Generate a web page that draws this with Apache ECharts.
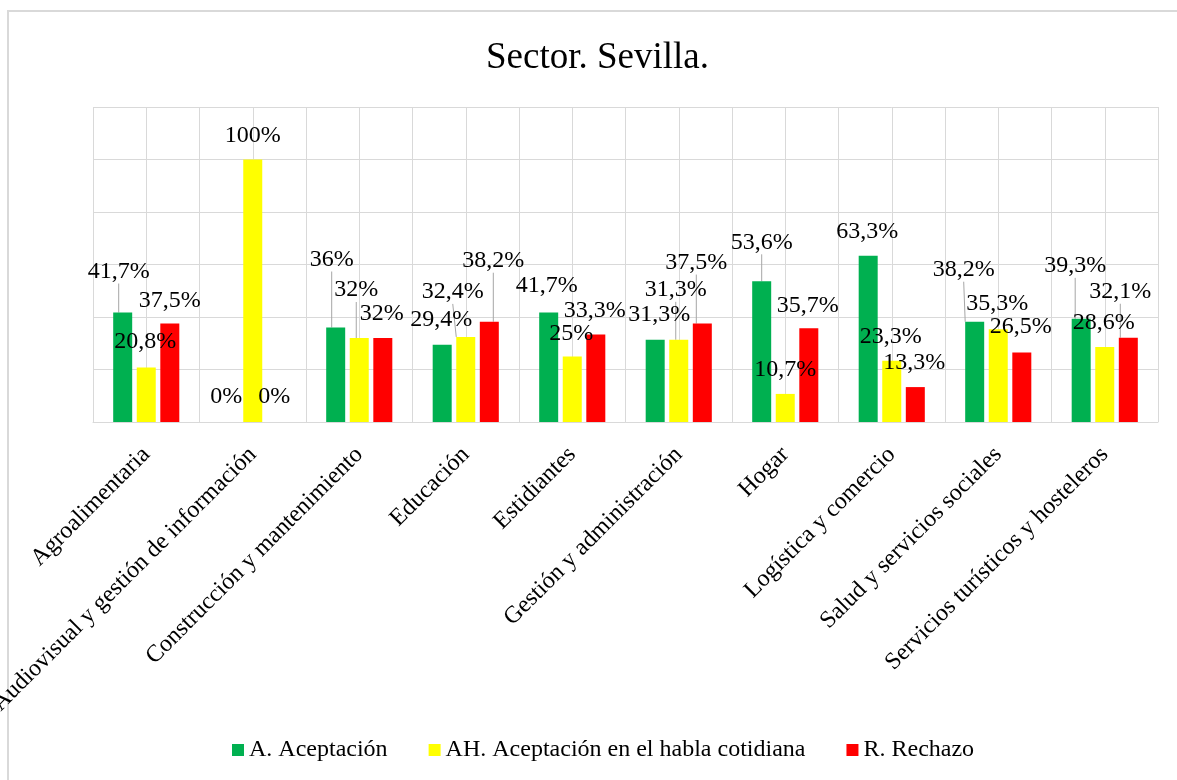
<!DOCTYPE html>
<html>
<head>
<meta charset="utf-8">
<script src="https://cdn.jsdelivr.net/npm/echarts@6/dist/echarts.min.js"></script>
<style>
html,body{margin:0;padding:0;background:#fff;}
#chart{width:1177px;height:780px;}
</style>
</head>
<body>
<div id="chart"></div>
<script>
const titleText = 'Sector. Sevilla.';
const categories = [
  'Agroalimentaria',
  'Audiovisual y gestión de información',
  'Construcción y mantenimiento',
  'Educación',
  'Estidiantes',
  'Gestión y administración',
  'Hogar',
  'Logística y comercio',
  'Salud y servicios sociales',
  'Servicios turísticos y hosteleros'
];
const seriesNames = ['A. Aceptación', 'AH. Aceptación en el habla cotidiana', 'R. Rechazo'];
const aceptacion = [41.7, 0, 36, 29.4, 41.7, 31.3, 53.6, 63.3, 38.2, 39.3];
const hablaCotidiana = [20.8, 100, 32, 32.4, 25, 31.3, 10.7, 23.3, 35.3, 28.6];
const rechazo = [37.5, 0, 32, 38.2, 33.3, 37.5, 35.7, 13.3, 26.5, 32.1];

// label offsets (annotation placement, Excel-style)
const labelDx = [
  [-4, -3, -4, -1, -2, 4, 0, -1, -11, -6],
  [-1, 0, -3, -13, -1, -3, 0, -1, -1, -1],
  [0, -2, -1, 4, -1, -6, -1, -1, -1, -8]
];
const labelDy = [
  [-24, -8, -51, -8, -10, -8, -22, -7, -35, -36],
  [-9, -7, -31, -28, -6, -33, -7, -7, -9, -7],
  [-6, -8, -7, -44, -7, -44, -6, -7, -9, -29]
];
const leaders = [
  [1, 0, 1, 0, 0, 0, 1, 0, 1, 1],
  [0, 0, 1, 1, 0, 1, 0, 0, 0, 0],
  [0, 0, 0, 1, 0, 1, 0, 0, 0, 1]
];
const colors = ['#00B050', '#FFFF00', '#FF0000'];
const FONT = '"Liberation Serif", "Times New Roman", serif';

const values = [aceptacion, hablaCotidiana, rechazo];
const halfCats = [];
for (let i = 0; i < categories.length * 2; i++) halfCats.push('h' + i);

function fmt(v) { return String(v).replace('.', ',') + '%'; }

const series = values.map((arr, s) => ({
  name: seriesNames[s],
  type: 'bar',
  xAxisIndex: 0,
  barWidth: 19,
  barGap: '24%',
  itemStyle: { color: colors[s] },
  label: {
    show: true,
    position: 'top',
    distance: 5,
    fontFamily: FONT,
    fontSize: 24,
    color: '#000',
    formatter: p => fmt(p.value)
  },
  labelLine: { show: false, lineStyle: { color: '#A6A6A6', width: 1 } },
  labelLayout: function (p) {
    return { dx: labelDx[s][p.dataIndex], dy: labelDy[s][p.dataIndex] };
  },
  data: arr.map((v, i) => ({
    value: v,
    labelLine: { show: !!leaders[s][i], lineStyle: { color: '#A6A6A6', width: 1 } }
  }))
}));

const chart = echarts.init(document.getElementById('chart'));
chart.setOption({
  backgroundColor: '#fff',
  animation: false,
  title: {
    text: titleText,
    left: 481,
    top: 35,
    textStyle: { fontFamily: FONT, fontSize: 37, fontWeight: 'normal', color: '#000' }
  },
  legend: {
    bottom: 13,
    left: 227,
    itemWidth: 12,
    itemHeight: 12,
    itemGap: 41,
    icon: 'rect',
    textStyle: { fontFamily: FONT, fontSize: 24, color: '#000' },
    data: seriesNames
  },
  graphic: [{
    type: 'rect',
    shape: { x: 8, y: 11, width: 1200, height: 800 },
    style: { fill: 'none', stroke: '#D9D9D9', lineWidth: 2 },
    silent: true
  }],
  grid: { left: 93, right: 19, top: 107, bottom: 358, containLabel: false, outerBoundsMode: 'none' },
  xAxis: [{
    type: 'category',
    data: categories,
    axisLine: { show: true, lineStyle: { color: '#D9D9D9', width: 1 } },
    axisTick: { show: false },
    splitLine: { show: true, interval: 0, lineStyle: { color: '#D9D9D9', width: 1 } },
    axisLabel: {
      interval: 0,
      rotate: 45,
      margin: 29,
      fontFamily: FONT,
      fontSize: 24,
      color: '#000'
    }
  }, {
    type: 'category',
    data: halfCats,
    position: 'bottom',
    axisLine: { show: false },
    axisTick: { show: false },
    axisLabel: { show: false },
    splitLine: { show: true, interval: 0, lineStyle: { color: '#D9D9D9', width: 1 } }
  }],
  yAxis: {
    type: 'value',
    min: 0,
    max: 120,
    interval: 20,
    axisLabel: { show: false },
    axisLine: { show: false },
    axisTick: { show: false },
    splitLine: { show: true, lineStyle: { color: '#D9D9D9', width: 1 } }
  },
  series: series
});
</script>
</body>
</html>
